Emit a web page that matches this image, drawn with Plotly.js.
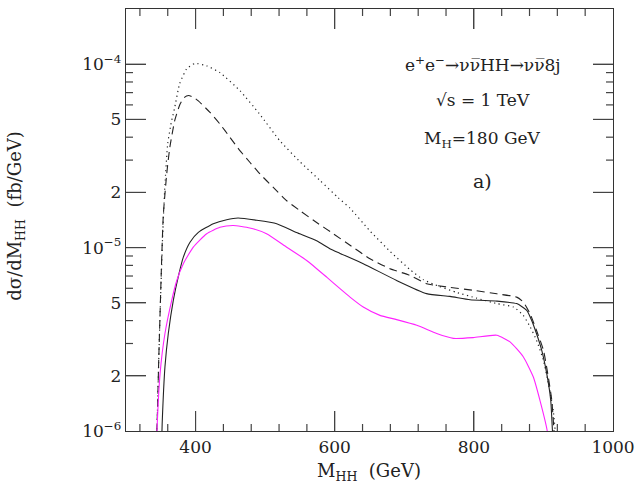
<!DOCTYPE html>
<html>
<head>
<meta charset="utf-8">
<script src="https://cdn.plot.ly/plotly-3.0.1.min.js"></script>
<style>body { margin: 0; background: #fff; }</style>
</head>
<body>
<div id="chart"></div>
<script>
// values (x in GeV, y in fb/GeV)
const dotX = [342, 345, 347, 349, 351, 353, 356, 360, 365, 370, 377, 387, 399, 416, 435, 464, 492, 521, 550, 579, 605, 622, 650, 680, 708, 727, 750, 775, 804, 833, 857, 871, 881, 890, 900, 907, 914, 918];
const dotY = [6e-7, 1.2e-6, 2.4e-6, 4.4e-6, 7.5e-6, 1.25e-5, 2.2e-5, 3.7e-5, 4.8e-5, 5.8e-5, 7.8e-5, 9.4e-5, 1.01e-4, 9.8e-5, 9.0e-5, 7.16e-5, 5.35e-5, 3.83e-5, 2.94e-5, 2.32e-5, 1.87e-5, 1.64e-5, 1.24e-5, 9.5e-6, 7.6e-6, 6.7e-6, 6.15e-6, 5.7e-6, 5.3e-6, 4.95e-6, 4.74e-6, 4.27e-6, 3.69e-6, 3.13e-6, 2.43e-6, 1.82e-6, 1.3e-6, 9e-7];

const dashX = [342, 345, 347, 349, 351, 353.6, 358.5, 363, 370, 377.6, 384, 390, 397, 404, 420.7, 435, 449.5, 464, 478, 492.6, 511.7, 531, 550, 574, 598, 622, 650.7, 679.5, 708, 732, 765.7, 799, 833, 861.6, 871, 880.7, 890, 900, 907, 912, 916];
const dashY = [6e-7, 1.2e-6, 2.4e-6, 4.4e-6, 8e-6, 1.5e-5, 2.52e-5, 3.52e-5, 4.92e-5, 6.05e-5, 6.6e-5, 6.75e-5, 6.6e-5, 6.31e-5, 5.46e-5, 4.72e-5, 3.99e-5, 3.37e-5, 2.92e-5, 2.52e-5, 2.13e-5, 1.8e-5, 1.59e-5, 1.37e-5, 1.19e-5, 1.03e-5, 8.7e-6, 7.67e-6, 7.06e-6, 6.36e-6, 6.07e-6, 5.85e-6, 5.6e-6, 5.37e-6, 5.05e-6, 4.37e-6, 3.54e-6, 2.76e-6, 1.97e-6, 1.47e-6, 9e-7];

const solidX = [350, 352, 356, 360.8, 368, 375, 382.4, 392, 404, 425.5, 444.7, 461, 488, 516.6, 545, 574, 593, 607.6, 641, 689, 732, 765.7, 794.5, 833, 861.6, 876, 883, 890, 897.5, 904.7, 910.5, 913, 915];
const solidY = [6e-7, 1.1e-6, 2.24e-6, 3.4e-6, 5.16e-6, 6.9e-6, 8.87e-6, 1.07e-5, 1.21e-5, 1.35e-5, 1.42e-5, 1.45e-5, 1.41e-5, 1.35e-5, 1.21e-5, 1.09e-5, 9.86e-6, 9.3e-6, 8.17e-6, 6.62e-6, 5.61e-6, 5.42e-6, 5.2e-6, 5.11e-6, 4.95e-6, 4.55e-6, 4.02e-6, 3.4e-6, 2.76e-6, 2.06e-6, 1.47e-6, 1.0e-6, 8e-7];

const magX = [343, 344.5, 349, 356, 365.7, 373, 382.4, 396.7, 416, 435, 454, 478, 502, 531, 559.7, 588.5, 607.6, 622, 641, 665, 689, 718, 746.6, 770.5, 799, 833, 852, 871, 885.5, 895, 905.5, 908];
const magY = [6e-7, 1.0e-6, 2.06e-6, 3.4e-6, 5.16e-6, 6.62e-6, 8.17e-6, 1.005e-5, 1.19e-5, 1.29e-5, 1.32e-5, 1.28e-5, 1.19e-5, 1.005e-5, 8.51e-6, 6.9e-6, 5.97e-6, 5.37e-6, 4.74e-6, 4.27e-6, 4.05e-6, 3.77e-6, 3.4e-6, 3.2e-6, 3.23e-6, 3.33e-6, 3.06e-6, 2.54e-6, 1.97e-6, 1.47e-6, 1.0e-6, 8e-7];

const xTickVals = [400, 600, 800, 1000];
const xMajorMarks = [400, 600, 800];
const xMinorMarks = [320, 360, 440, 480, 520, 560, 640, 680, 720, 760, 840, 880, 920, 960];
const yTickVals = [1e-6, 2e-6, 5e-6, 1e-5, 2e-5, 5e-5, 1e-4, 2e-4];
const yTickText = ['10<sup>\u22126</sup>', '2', '5', '10<sup>\u22125</sup>', '2', '5', '10<sup>\u22124</sup>', '2'];
const yMajorMarks = [2e-6, 5e-6, 1e-5, 2e-5, 5e-5, 1e-4];
const yMinorMarks = [3e-6, 4e-6, 6e-6, 7e-6, 8e-6, 9e-6, 3e-5, 4e-5, 6e-5, 7e-5, 8e-5, 9e-5];

const FONT = 'DejaVu Serif, Liberation Serif, serif';
const INK = '#222';
const TICK = '#444';
const W = 638, H = 491;
const M = { l: 126, r: 25, t: 9, b: 60 };
const PW = W - M.l - M.r, PH = H - M.t - M.b;
const X_RANGE = [300, 1000];
const Y_RANGE = [-6, Math.log10(2e-4)];

// axis value -> fraction of the plot area
const xFrac = v => (v - X_RANGE[0]) / (X_RANGE[1] - X_RANGE[0]);
const yFrac = v => (Math.log10(v) - Y_RANGE[0]) / (Y_RANGE[1] - Y_RANGE[0]);

function curve(x, y, color, dash, width) {
    return { x, y, type: 'scatter', mode: 'lines', hoverinfo: 'skip',
        line: { color, dash, width, shape: 'spline', smoothing: 0.5 } };
}

// inward tick marks on all four sides, as layout shapes in plot fractions
function tickShapes(xVals, yVals, len) {
    const out = [];
    const ln = { color: TICK, width: 1.2 };
    const hy = len / PH, hx = len / PW;
    xVals.forEach(v => {
        const f = xFrac(v);
        out.push({ type: 'line', xref: 'paper', yref: 'paper', x0: f, x1: f, y0: 0, y1: hy, line: ln });
        out.push({ type: 'line', xref: 'paper', yref: 'paper', x0: f, x1: f, y0: 1, y1: 1 - hy, line: ln });
    });
    yVals.forEach(v => {
        const f = yFrac(v);
        out.push({ type: 'line', xref: 'paper', yref: 'paper', x0: 0, x1: hx, y0: f, y1: f, line: ln });
        out.push({ type: 'line', xref: 'paper', yref: 'paper', x0: 1, x1: 1 - hx, y0: f, y1: f, line: ln });
    });
    return out;
}

const traces = [
    curve(dotX, dotY, INK, '1.2px,3.5px', 1.2),
    curve(dashX, dashY, INK, '8px,5px', 1.1),
    curve(solidX, solidY, INK, 'solid', 1.1),
    curve(magX, magY, '#ff22ff', 'solid', 1.1)
];

function axis(extra) {
    return Object.assign({
        showgrid: false, zeroline: false,
        ticks: 'inside', ticklen: 20, tickwidth: 1.2, tickcolor: TICK, mirror: 'ticks',
        showline: true, linecolor: '#333', linewidth: 1.2,
        tickfont: { family: FONT, size: 17, color: INK }
    }, extra);
}

const textFont = { family: FONT, size: 17, color: INK };

const layout = {
    width: W, height: H, margin: M,
    showlegend: false,
    paper_bgcolor: '#fff', plot_bgcolor: '#fff',
    font: { family: FONT, color: INK },
    xaxis: axis({ range: X_RANGE, tickmode: 'array', tickvals: xTickVals }),
    yaxis: axis({ type: 'log', range: Y_RANGE, tickmode: 'array', tickvals: yTickVals, ticktext: yTickText }),
    shapes: tickShapes(xMajorMarks, yMajorMarks, 20).concat(tickShapes(xMinorMarks, yMinorMarks, 7)),
    annotations: [
        { text: 'e<sup>+</sup>e<sup>\u2212</sup>\u2192\u03bd\u03bd\u0305HH\u2192\u03bd\u03bd\u03058j', x: 813, y: Math.log10(1.0e-4), xref: 'x', yref: 'y', font: textFont },
        { text: '\u221as\u00a0=\u00a01\u00a0TeV', x: 813, y: Math.log10(6.4e-5), xref: 'x', yref: 'y', font: textFont },
        { text: 'M<sub>H</sub>=180\u00a0GeV', x: 813, y: Math.log10(3.9e-5), xref: 'x', yref: 'y', font: textFont },
        { text: 'a)', x: 813, y: Math.log10(2.3e-5), xref: 'x', yref: 'y', font: Object.assign({}, textFont, { size: 19 }) },
        // axis titles
        { text: 'M<sub>HH</sub>\u00a0\u00a0(GeV)', x: 0.499, y: -0.097, xref: 'paper', yref: 'paper',
          font: { family: FONT, size: 18, color: INK } },
        { text: 'd\u03c3/dM<sub>HH</sub>\u00a0\u00a0(fb/GeV)', x: -0.226, y: 0.51, xref: 'paper', yref: 'paper',
          textangle: -90, font: { family: FONT, size: 18, color: INK } }
    ].map(a => Object.assign(a, { showarrow: false, xanchor: 'center', yanchor: 'middle' }))
};

Plotly.newPlot('chart', traces, layout, { staticPlot: true, displayModeBar: false });
</script>
</body>
</html>
